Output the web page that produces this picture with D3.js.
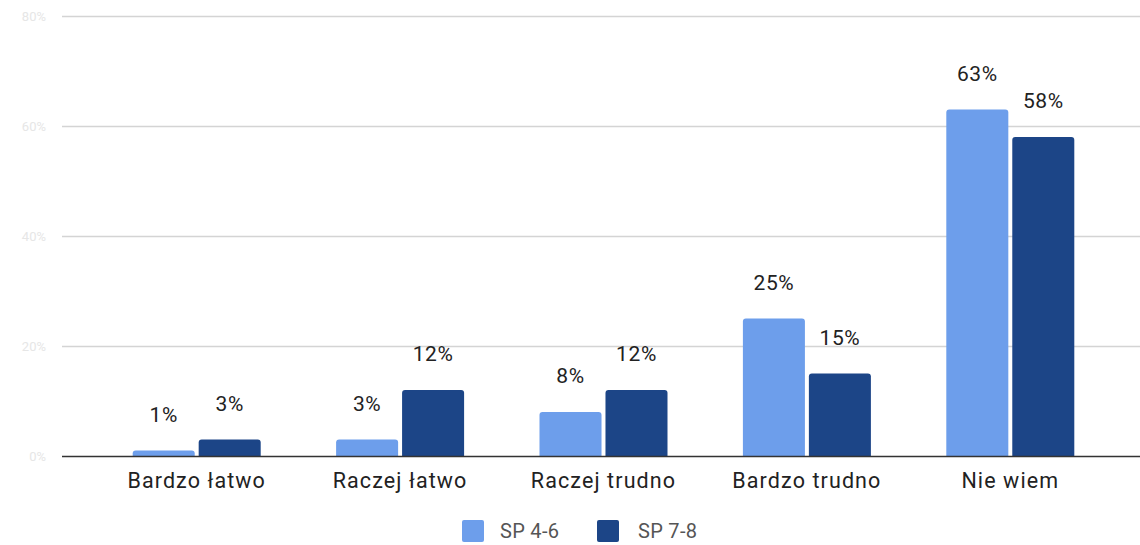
<!DOCTYPE html>
<html><head><meta charset="utf-8">
<script src="https://cdn.jsdelivr.net/npm/d3@7"></script>
<style>body{margin:0;background:#fff;}svg{display:block;font-family:Roboto,"Noto Sans",sans-serif;}</style>
</head><body>
<svg id="chart" width="1140" height="545"></svg>
<script>
const categories = ["Bardzo łatwo","Raczej łatwo","Raczej trudno","Bardzo trudno","Nie wiem"];
const seriesNames = ["SP 4-6","SP 7-8"];
const sp46 = [1,3,8,25,63];
const sp78 = [3,12,12,15,58];
const yTicks = [0,20,40,60,80];
const colors = ["#6d9eeb","#1c4587"];

const svg = d3.select("#chart");
const y = d3.scaleLinear().domain([0,80]).range([456,16]);
const x = d3.scaleBand().domain(categories).range([95,1112]).paddingInner(0).paddingOuter(0);
const xs = d3.scaleBand().domain(seriesNames).range([x.bandwidth()/2-64, x.bandwidth()/2+64]).paddingInner(0.06);

// gridlines
svg.append("g").selectAll("line").data(yTicks.filter(d=>d>0)).join("line")
  .attr("x1",62).attr("x2",1140).attr("y1",d=>Math.round(y(d))+0.5).attr("y2",d=>Math.round(y(d))+0.5)
  .attr("stroke","#d4d4d4").attr("stroke-width",1.5);
svg.append("g").selectAll("text").data(yTicks).join("text")
  .attr("x",46).attr("y",d=>y(d)+5).attr("text-anchor","end")
  .attr("font-size",13).attr("fill","#e6e6e6").text(d=>d+"%");

const data = categories.map((c,i)=>({cat:c, vals:[sp46[i],sp78[i]]}));
const groups = svg.append("g").selectAll("g").data(data).join("g")
  .attr("transform",d=>`translate(${x(d.cat)},0)`);

function topRounded(x0,y0,w,h,r){
  r=Math.min(r,h);
  return `M${x0},${y0+h}V${y0+r}Q${x0},${y0} ${x0+r},${y0}H${x0+w-r}Q${x0+w},${y0} ${x0+w},${y0+r}V${y0+h}Z`;
}
groups.selectAll("path").data(d=>d.vals.map((v,j)=>({v,s:seriesNames[j],j}))).join("path")
  .attr("d",d=>topRounded(xs(d.s), y(d.v), xs.bandwidth(), y(0)-y(d.v), 3))
  .attr("fill",d=>colors[d.j]);
groups.selectAll("text.val").data(d=>d.vals.map((v,j)=>({v,s:seriesNames[j],j}))).join("text")
  .attr("class","val")
  .attr("x",d=>xs(d.s)+xs.bandwidth()/2).attr("y",d=>y(d.v)-29)
  .attr("text-anchor","middle").attr("font-size",21).attr("letter-spacing",0.6)
  .attr("fill","#222").text(d=>d.v+"%");

// axis baseline
svg.append("line").attr("x1",62).attr("x2",1140).attr("y1",456.5).attr("y2",456.5).attr("stroke","#333").attr("stroke-width",1.5);

// category labels
svg.append("g").selectAll("text").data(categories).join("text")
  .attr("x",d=>x(d)+x.bandwidth()/2).attr("y",488).attr("text-anchor","middle")
  .attr("font-size",21.5).attr("letter-spacing",1.1).attr("fill","#222").text(d=>d);

// legend
const legendX = [462,597];
const lg = svg.append("g").selectAll("g").data(seriesNames).join("g")
  .attr("transform",(d,i)=>`translate(${legendX[i]},520)`);
lg.append("rect").attr("width",22).attr("height",22).attr("rx",2).attr("fill",(d,i)=>colors[i]);
lg.append("text").attr("x",d=>d==="SP 4-6"?38:41).attr("y",18).attr("font-size",20).attr("letter-spacing",0.3).attr("fill","#555").text(d=>d);
</script>
</body></html>
